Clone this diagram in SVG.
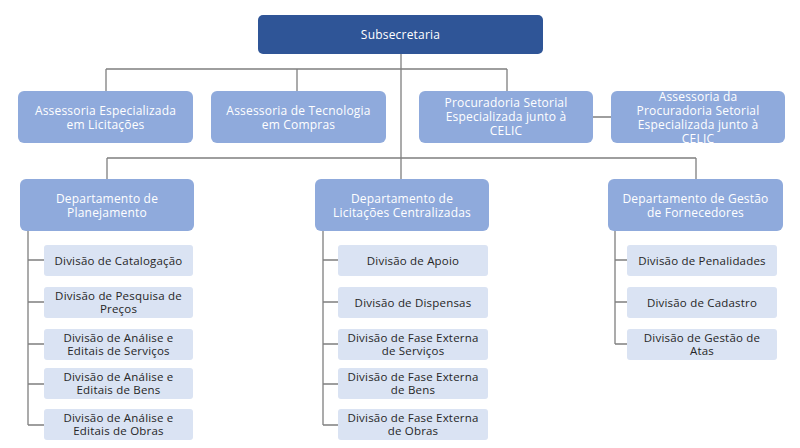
<svg xmlns="http://www.w3.org/2000/svg" width="800" height="448" viewBox="0 0 800 448">
<style>
text{font-family:"Open Sans","Noto Sans","Liberation Sans",sans-serif;font-size:12px;text-anchor:middle;letter-spacing:0.2px}
.top{fill:#2F5597}
.mid{fill:#8FAADC}
.div{fill:#DAE3F3}
.w{fill:#FFFFFF}
.d{fill:#262626;font-size:11.5px}
.ln{stroke:#7F7F7F;stroke-width:1.3;fill:none}
</style>
<rect width="800" height="448" fill="#FFFFFF"/>
<g id="connectors">
<path class="ln" d="M401 54V158M106 69H507M106 69V91M297 69V91M507 69V91M593 117H611M107 158H696M107 158V179M401 158V179M696 158V179"/>
<path class="ln" d="M28 231V425M28 260H44M28 302H44M28 344H44M28 384H44M28 425H44"/>
<path class="ln" d="M323 231V425M323 260H338M323 302H338M323 344H338M323 384H338M323 425H338"/>
<path class="ln" d="M615 231V344M615 260H627M615 302H627M615 344H627"/>
</g>
<g id="n-subsecretaria"><rect class="top" x="258" y="15" width="285" height="39" rx="5"/><text class="w" x="400.5" y="39">Subsecretaria</text></g>
<g id="n-assessoria-licitacoes"><rect class="mid" x="18" y="91" width="175" height="52" rx="6"/><text class="w"><tspan x="105.5" y="115">Assessoria Especializada</tspan><tspan x="105.5" y="129">em Licitações</tspan></text></g>
<g id="n-assessoria-tecnologia"><rect class="mid" x="211" y="91" width="175" height="52" rx="6"/><text class="w"><tspan x="298.5" y="115">Assessoria de Tecnologia</tspan><tspan x="298.5" y="129">em Compras</tspan></text></g>
<g id="n-procuradoria"><rect class="mid" x="419" y="91" width="174" height="52" rx="6"/><text class="w"><tspan x="506" y="107">Procuradoria Setorial</tspan><tspan x="506" y="121">Especializada junto à</tspan><tspan x="506" y="135">CELIC</tspan></text></g>
<g id="n-assessoria-procuradoria"><rect class="mid" x="611" y="91" width="174" height="52" rx="6"/><text class="w"><tspan x="698" y="101">Assessoria da</tspan><tspan x="698" y="115">Procuradoria Setorial</tspan><tspan x="698" y="129">Especializada junto à</tspan><tspan x="698" y="143">CELIC</tspan></text></g>
<g id="n-dep-planejamento"><rect class="mid" x="20" y="179" width="174" height="52" rx="6"/><text class="w"><tspan x="107" y="203">Departamento de</tspan><tspan x="107" y="217">Planejamento</tspan></text></g>
<g id="n-dep-licitacoes"><rect class="mid" x="315" y="179" width="174" height="52" rx="6"/><text class="w"><tspan x="402" y="203">Departamento de</tspan><tspan x="402" y="217">Licitações Centralizadas</tspan></text></g>
<g id="n-dep-fornecedores"><rect class="mid" x="608" y="179" width="175" height="52" rx="6"/><text class="w"><tspan x="695.5" y="203">Departamento de Gestão</tspan><tspan x="695.5" y="217">de Fornecedores</tspan></text></g>
<g id="n-div-catalogacao"><rect class="div" x="44" y="245" width="149" height="31" rx="3"/><text class="d" x="118.5" y="264.5">Divisão de Catalogação</text></g>
<g id="n-div-pesquisa"><rect class="div" x="44" y="287" width="149" height="31" rx="3"/><text class="d"><tspan x="118.5" y="299.5">Divisão de Pesquisa de</tspan><tspan x="118.5" y="313">Preços</tspan></text></g>
<g id="n-div-servicos"><rect class="div" x="44" y="329" width="149" height="31" rx="3"/><text class="d"><tspan x="118.5" y="341.5">Divisão de Análise e</tspan><tspan x="118.5" y="355">Editais de Serviços</tspan></text></g>
<g id="n-div-bens"><rect class="div" x="44" y="368" width="149" height="31" rx="3"/><text class="d"><tspan x="118.5" y="380.5">Divisão de Análise e</tspan><tspan x="118.5" y="394">Editais de Bens</tspan></text></g>
<g id="n-div-obras"><rect class="div" x="44" y="409" width="149" height="31" rx="3"/><text class="d"><tspan x="118.5" y="421.5">Divisão de Análise e</tspan><tspan x="118.5" y="435">Editais de Obras</tspan></text></g>
<g id="n-div-apoio"><rect class="div" x="338" y="245" width="150" height="31" rx="3"/><text class="d" x="413" y="264.5">Divisão de Apoio</text></g>
<g id="n-div-dispensas"><rect class="div" x="338" y="287" width="150" height="31" rx="3"/><text class="d" x="413" y="306.5">Divisão de Dispensas</text></g>
<g id="n-div-fe-servicos"><rect class="div" x="338" y="329" width="150" height="31" rx="3"/><text class="d"><tspan x="413" y="341.5">Divisão de Fase Externa</tspan><tspan x="413" y="355">de Serviços</tspan></text></g>
<g id="n-div-fe-bens"><rect class="div" x="338" y="368" width="150" height="31" rx="3"/><text class="d"><tspan x="413" y="380.5">Divisão de Fase Externa</tspan><tspan x="413" y="394">de Bens</tspan></text></g>
<g id="n-div-fe-obras"><rect class="div" x="338" y="409" width="150" height="31" rx="3"/><text class="d"><tspan x="413" y="421.5">Divisão de Fase Externa</tspan><tspan x="413" y="435">de Obras</tspan></text></g>
<g id="n-div-penalidades"><rect class="div" x="627" y="245" width="150" height="31" rx="3"/><text class="d" x="702" y="264.5">Divisão de Penalidades</text></g>
<g id="n-div-cadastro"><rect class="div" x="627" y="287" width="150" height="31" rx="3"/><text class="d" x="702" y="306.5">Divisão de Cadastro</text></g>
<g id="n-div-atas"><rect class="div" x="627" y="329" width="150" height="31" rx="3"/><text class="d"><tspan x="702" y="341.5">Divisão de Gestão de</tspan><tspan x="702" y="355">Atas</tspan></text></g>
</svg>
